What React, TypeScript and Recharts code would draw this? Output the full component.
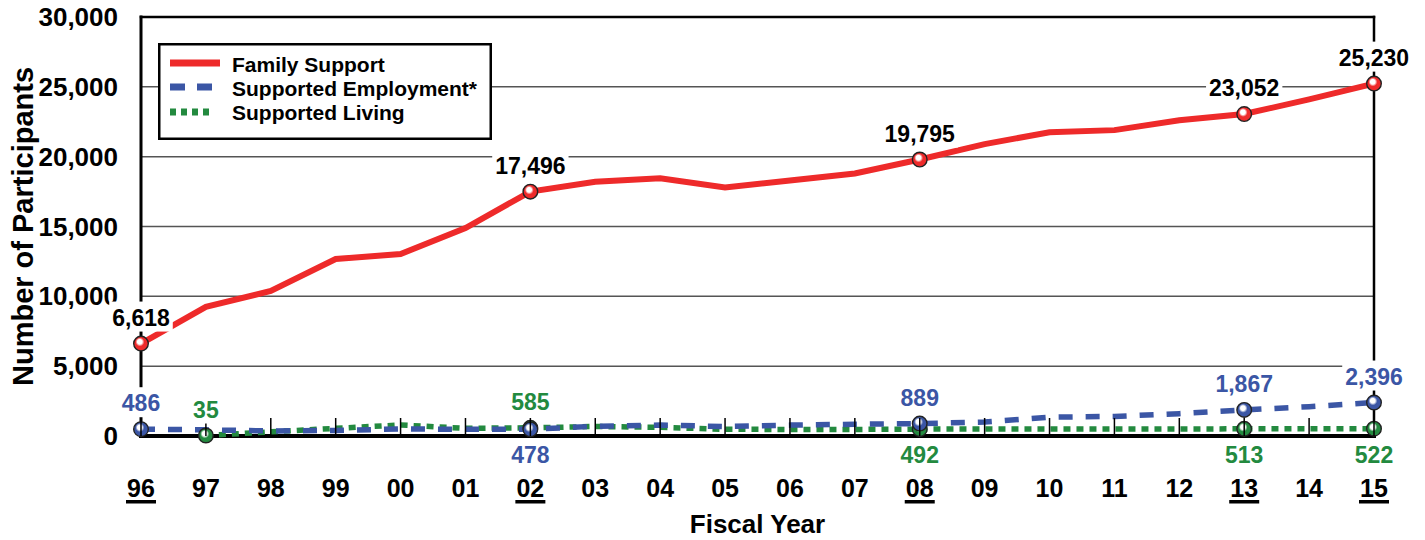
import React from 'react';
import { LineChart, Line, XAxis, YAxis, CartesianGrid, Legend, LabelList } from 'recharts';

const years = ['96', '97', '98', '99', '00', '01', '02', '03', '04', '05', '06', '07', '08', '09', '10', '11', '12', '13', '14', '15'];
const familySupport = [6618, 9250, 10380, 12670, 13030, 14890, 17496, 18200, 18450, 17800, 18300, 18800, 19795, 20900, 21750, 21900, 22600, 23052, 24100, 25230];
const supportedEmployment = [486, 440, 360, 400, 500, 480, 478, 700, 780, 680, 780, 840, 889, 1000, 1350, 1400, 1600, 1867, 2100, 2396];
const supportedLiving = [null, 35, 300, 550, 790, 550, 585, 680, 620, 480, 470, 470, 492, 500, 500, 500, 505, 513, 515, 522];
const yTicks = [0, 5000, 10000, 15000, 20000, 25000, 30000];
const underlinedYears = ['96', '02', '08', '13', '15'];

// label placement per point index
const familyLabels: Record<number, string> = { 0: 'above', 6: 'above', 12: 'above', 17: 'above', 19: 'above' };
const employmentLabels: Record<number, string> = { 0: 'above', 6: 'below', 12: 'above', 17: 'above', 19: 'above' };
const livingLabels: Record<number, string> = { 1: 'above', 6: 'above', 12: 'below', 17: 'below', 19: 'below' };

const names = ['Family Support', 'Supported Employment*', 'Supported Living'];
const RED = '#EE2A2A';
const BLUE = '#3B56A5';
const GREEN = '#238A3F';
const FONT = "'Liberation Sans', Arial, Helvetica, sans-serif";

const data = years.map((y, i) => ({
  year: y,
  family: familySupport[i],
  employment: supportedEmployment[i],
  living: supportedLiving[i],
}));

const fmt = (v: number) => v.toLocaleString('en-US');

const makeDot = (labels: Record<number, string>, color: string, id: string) => (props: any) => {
  const { cx, cy, index } = props;
  if (labels[index] === undefined && !(id === 'g' && index === 6)) return <g key={`d-${id}-${index}`} />;
  if (cx == null || cy == null) return <g key={`d-${id}-${index}`} />;
  const gid = `grad-${id}`;
  return (
    <g key={`d-${id}-${index}`}>
      <defs>
        <radialGradient id={gid} cx="0.45" cy="0.42" r="0.58" fx="0.4" fy="0.36">
          <stop offset="0%" stopColor="#ffffff" />
          <stop offset="28%" stopColor="#ffffff" />
          <stop offset="52%" stopColor={color} />
          <stop offset="100%" stopColor={color} />
        </radialGradient>
      </defs>
      <circle cx={cx} cy={cy} r={7.3} fill={`url(#${gid})`} stroke="#222" strokeWidth={1.4} />
    </g>
  );
};

const textWidth = (s: string, fs: number) => {
  let w = 0;
  for (const ch of s) w += ch === ',' ? 0.278 : 0.556;
  return w * fs;
};

const makeLabel = (labels: Record<number, string>, color: string) => (props: any) => {
  const { x, y, index, value } = props;
  const pos = labels[index];
  if (!pos || value == null) return null;
  const fs = 23;
  const s = fmt(Number(value));
  const w = textWidth(s, fs);
  const baseline = pos === 'above' ? y - 18 : y + 34;
  return (
    <g key={`l-${index}`}>
      <rect x={x - w / 2 - 3} y={baseline - 24} width={w + 6} height={30} fill="#ffffff" />
      <text x={x} y={baseline} textAnchor="middle" fontFamily={FONT} fontSize={fs} fontWeight={700} fill={color}>
        {s}
      </text>
    </g>
  );
};

const XTick = (props: any) => {
  const { x, y, payload } = props;
  const u = underlinedYears.includes(payload.value);
  return (
    <g>
      <line x1={x} x2={x} y1={y} y2={y - 18} stroke="#000" strokeWidth={1.5} />
      <text x={x} y={y + 61} textAnchor="middle" fontFamily={FONT} fontSize={25} fontWeight={700} fill="#000">
        {payload.value}
      </text>
      {u && <rect x={x - 15} y={y + 64} width={30} height={3.5} fill="#000" />}
    </g>
  );
};

const YTick = (props: any) => {
  const { x, y, payload } = props;
  return (
    <text x={x - 23} y={y + 9} textAnchor="end" fontFamily={FONT} fontSize={26} fontWeight={700} fill="#000">
      {fmt(payload.value)}
    </text>
  );
};

const HLine = (props: any) => {
  const { x1, x2, y1, y, height } = props;
  const isTop = Math.abs(y1 - y) < 1;
  const isBottom = Math.abs(y1 - (y + height)) < 1;
  if (isTop) return <line x1={x1} x2={x2} y1={y1} y2={y1} stroke="#000" strokeWidth={2.5} strokeLinecap="square" />;
  if (isBottom) return <line x1={x1} x2={x2} y1={y1} y2={y1} stroke="#000" strokeWidth={4} strokeLinecap="square" />;
  return <line x1={x1} x2={x2} y1={y1} y2={y1} stroke="#555" strokeWidth={1.5} />;
};

const VLine = (props: any) => {
  const { x1, y1, y2, x } = props;
  const isLeft = Math.abs(x1 - x) < 1;
  return <line x1={x1} x2={x1} y1={y1} y2={y2} stroke="#000" strokeWidth={isLeft ? 3 : 2.5} strokeLinecap="square" />;
};

const LegendBox = () => (
  <svg width={334} height={97} style={{ display: 'block' }}>
    <rect x={1.25} y={1.25} width={331.5} height={94.5} fill="#fff" stroke="#000" strokeWidth={2.5} />
    <line x1={12} x2={62} y1={20} y2={20} stroke={RED} strokeWidth={7} />
    <line x1={12} x2={54} y1={44} y2={44} stroke={BLUE} strokeWidth={7} strokeDasharray="15 12" />
    <line x1={12} x2={54} y1={69} y2={69} stroke={GREEN} strokeWidth={7} strokeDasharray="6 5" />
    <text x={74} y={29} fontFamily={FONT} fontSize={21} fontWeight={700} fill="#000">{names[0]}</text>
    <text x={74} y={53} fontFamily={FONT} fontSize={21} fontWeight={700} fill="#000">{names[1]}</text>
    <text x={74} y={77} fontFamily={FONT} fontSize={21} fontWeight={700} fill="#000">{names[2]}</text>
  </svg>
);

export default function App() {
  return (
    <div style={{ position: 'absolute', left: 0, top: 0, width: 1425, height: 540, background: '#fff' }}>
      <LineChart width={1425} height={540} data={data} margin={{ top: 17, right: 51, bottom: 0, left: 0 }}>
        <CartesianGrid
          horizontal={HLine}
          vertical={VLine}
          verticalCoordinatesGenerator={({ offset }: any) => [offset.left, offset.left + offset.width]}
        />
        <XAxis
          dataKey="year"
          interval={0}
          axisLine={false}
          tickLine={false}
          tickSize={0}
          tickMargin={0}
          height={104}
          tick={<XTick />}
          label={{
            content: (p: any) => {
              const vb = p.viewBox;
              return (
                <text x={vb.x + vb.width / 2} y={vb.y + 97} textAnchor="middle" fontFamily={FONT} fontSize={26} fontWeight={700} fill="#000">
                  Fiscal Year
                </text>
              );
            },
          }}
        />
        <YAxis
          domain={[0, 30000]}
          ticks={yTicks}
          interval={0}
          width={141}
          axisLine={false}
          tickLine={false}
          tickSize={0}
          tickMargin={0}
          tick={<YTick />}
          label={{
            content: (p: any) => {
              const vb = p.viewBox;
              const cy = vb.y + vb.height / 2;
              return (
                <text x={33} y={cy} transform={`rotate(-90, 33, ${cy})`} textAnchor="middle" fontFamily={FONT} fontSize={29} fontWeight={700} fill="#000">
                  Number of Participants
                </text>
              );
            },
          }}
        />
        <Legend
          layout="horizontal"
          verticalAlign="middle"
          align="center"
          wrapperStyle={{ left: 158, top: 43, width: 334, height: 97 }}
          content={() => <LegendBox />}
        />
        <Line
          dataKey="family"
          name={names[0]}
          stroke={RED}
          strokeWidth={6}
          dot={makeDot(familyLabels, RED, 'r')}
          activeDot={false}
          isAnimationActive={false}
        >
          <LabelList dataKey="family" content={makeLabel(familyLabels, '#000')} />
        </Line>
        <Line
          dataKey="living"
          name={names[2]}
          stroke={GREEN}
          strokeWidth={5.5}
          strokeDasharray="7 6"
          dot={makeDot(livingLabels, GREEN, 'g')}
          activeDot={false}
          isAnimationActive={false}
        >
          <LabelList dataKey="living" content={makeLabel(livingLabels, GREEN)} />
        </Line>
        <Line
          dataKey="employment"
          name={names[1]}
          stroke={BLUE}
          strokeWidth={5.5}
          strokeDasharray="14 13"
          dot={makeDot(employmentLabels, BLUE, 'b')}
          activeDot={false}
          isAnimationActive={false}
        >
          <LabelList dataKey="employment" content={makeLabel(employmentLabels, BLUE)} />
        </Line>
      </LineChart>
    </div>
  );
}
